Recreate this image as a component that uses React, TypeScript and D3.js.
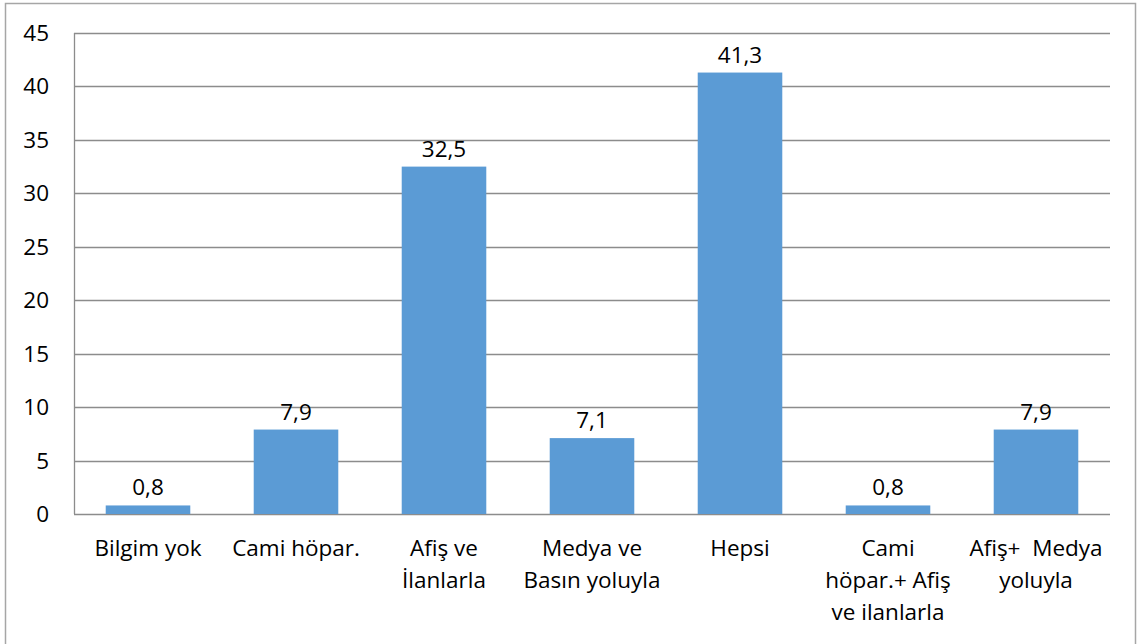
import React from "react";
import * as d3 from "d3";

const categories: string[] = [
  "Bilgim yok",
  "Cami höpar.",
  "Afiş ve\nİlanlarla",
  "Medya ve\nBasın yoluyla",
  "Hepsi",
  "Cami\nhöpar.+ Afiş\nve ilanlarla",
  "Afiş+  Medya\nyoluyla",
];
const values: number[] = [0.8, 7.9, 32.5, 7.1, 41.3, 0.8, 7.9];
const yTicks: number[] = [0, 5, 10, 15, 20, 25, 30, 35, 40, 45];

const W = 1140;
const H = 644;
const left = 74;
const right = 1110;
const top = 33;
const bottom = 514;
const FONT = "Open Sans, Calibri, Carlito, sans-serif";
const FS = 22.5;

export default function App() {
  const x = d3
    .scaleBand<string>()
    .domain(categories)
    .range([left, right])
    .paddingInner(0.75 / 1.75)
    .paddingOuter(0.75 / 1.75 / 2);
  const y = d3.scaleLinear().domain([0, 45]).range([bottom, top]);
  const fmt = (v: number) => d3.format(".1f")(v).replace(".", ",");

  return (
    <svg
      width={W}
      height={H}
      style={{ position: "absolute", left: 0, top: 0, background: "#fff" }}
      fontFamily={FONT}
    >
      <rect x={5.5} y={3.5} width={1130} height={700} fill="#fff" stroke="#a6a6a6" strokeWidth={1.5} />
      {yTicks.map((t) => (
        <g key={t}>
          <line x1={left} x2={right} y1={Math.round(y(t)) + 0.5} y2={Math.round(y(t)) + 0.5} stroke="#8c8c8c" strokeWidth={1.3} />
          <text x={49} y={y(t) + 8} textAnchor="end" fontSize={FS} fill="#000">
            {t}
          </text>
        </g>
      ))}
      <line x1={left + 0.5} x2={left + 0.5} y1={top} y2={bottom} stroke="#8c8c8c" strokeWidth={1.3} />
      {categories.map((c, i) => {
        const bx = x(c)!;
        const bw = x.bandwidth();
        const cx = bx + bw / 2;
        return (
          <g key={c}>
            <rect x={bx} y={y(values[i])} width={bw} height={y(0) - y(values[i])} fill="#5b9bd5" />
            <text x={cx} y={y(values[i]) - 10} textAnchor="middle" fontSize={FS} fill="#000">
              {fmt(values[i])}
            </text>
            {c.split("\n").map((line, j) => (
              <text
                key={j}
                x={cx}
                y={556 + j * 32}
                textAnchor="middle"
                fontSize={FS}
                fill="#000"
                style={{ whiteSpace: "pre" }}
              >
                {line}
              </text>
            ))}
          </g>
        );
      })}
    </svg>
  );
}
